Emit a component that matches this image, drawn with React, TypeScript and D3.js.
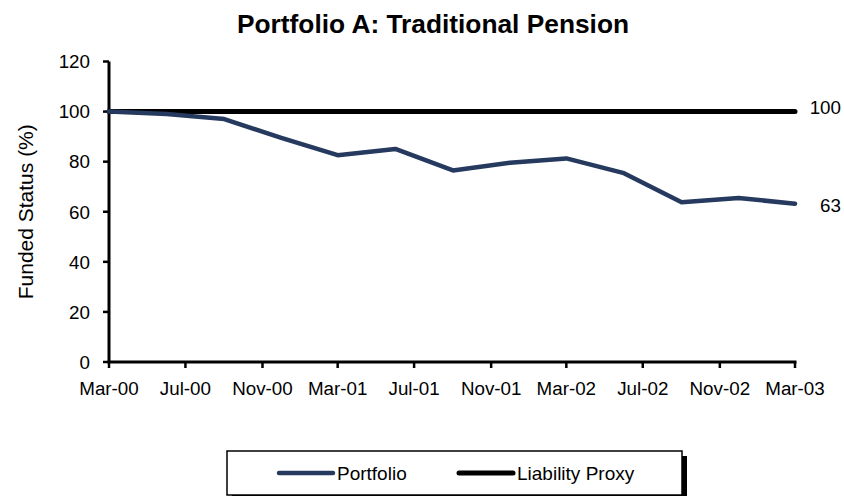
import React from "react";
import * as d3 from "d3";

const dates = ["2000-03", "2000-06", "2000-09", "2000-12", "2001-03", "2001-06", "2001-09", "2001-12", "2002-03", "2002-06", "2002-09", "2002-12", "2003-03"];
const portfolio = [100, 99, 97, 89.5, 82.6, 85.1, 76.5, 79.6, 81.3, 75.4, 63.8, 65.5, 63.2];
const liability = [100, 100, 100, 100, 100, 100, 100, 100, 100, 100, 100, 100, 100];
const yTicks = [0, 20, 40, 60, 80, 100, 120];
const endLabels = ["100", "63"];

const W = 844;
const H = 496;
const FONT = "'Liberation Sans', Arial, sans-serif";
const NAVY = "#253a5e";

export default function App() {
  const parse = d3.timeParse("%Y-%m");
  const ds = dates.map((d) => parse(d) as Date);
  const last = ds.length - 1;
  const x = d3.scaleTime().domain([ds[0], ds[last]]).range([109, 795]);
  const y = d3.scaleLinear().domain([0, 120]).range([362, 61.5]);
  const xTicks = d3.timeMonth.range(ds[0], d3.timeDay.offset(ds[last], 1), 4);
  const fmt = d3.timeFormat("%b-%y");
  const line = d3.line<number>().x((_, i) => x(ds[i])).y((v) => y(v));

  return (
    <svg width={W} height={H} style={{ position: "absolute", left: 0, top: 0, background: "#fff" }} fontFamily={FONT}>
      <text x={433} y={33} textAnchor="middle" fontSize={26.3} fontWeight="bold" fill="#000">
        Portfolio A: Traditional Pension
      </text>
      <text transform={`translate(33,${(y(0) + y(120)) / 2}) rotate(-90)`} textAnchor="middle" fontSize={21} fill="#000">
        Funded Status (%)
      </text>
      {/* Y axis */}
      <line x1={109} x2={109} y1={y(120)} y2={y(0)} stroke="#000" strokeWidth={3} />
      {yTicks.map((t) => (
        <g key={t}>
          <line x1={103} x2={109} y1={y(t)} y2={y(t)} stroke="#000" strokeWidth={2.5} />
          <text x={90} y={y(t)} dy="0.36em" textAnchor="end" fontSize={18.8} fill="#000">
            {t}
          </text>
        </g>
      ))}
      {/* X axis */}
      <line x1={x(ds[0]) - 1.5} x2={x(ds[last]) + 1.5} y1={y(0)} y2={y(0)} stroke="#000" strokeWidth={3} />
      {xTicks.map((t, i) => (
        <g key={i}>
          <line x1={x(t)} x2={x(t)} y1={y(0)} y2={y(0) + 6} stroke="#000" strokeWidth={2.5} />
          <text x={x(t)} y={395} textAnchor="middle" fontSize={18.8} fill="#000">
            {fmt(t)}
          </text>
        </g>
      ))}
      {/* Series */}
      <path d={line(liability) || ""} fill="none" stroke="#000" strokeWidth={5} strokeLinecap="round" />
      <path d={line(portfolio) || ""} fill="none" stroke={NAVY} strokeWidth={4.5} strokeLinejoin="round" strokeLinecap="round" />
      <text x={x(ds[last]) + 46} y={y(liability[last]) - 4} dy="0.36em" textAnchor="end" fontSize={18.8} fill="#000">
        {endLabels[0]}
      </text>
      <text x={x(ds[last]) + 46} y={y(portfolio[last]) + 1} dy="0.36em" textAnchor="end" fontSize={18.8} fill="#000">
        {endLabels[1]}
      </text>
      {/* Legend */}
      <rect x={232} y={456} width={455} height={46} fill="#000" />
      <rect x={227} y={451} width={455} height={44} fill="#fff" stroke="#000" strokeWidth={1.5} />
      <line x1={279} x2={333} y1={473} y2={473} stroke={NAVY} strokeWidth={4.5} strokeLinecap="round" />
      <text x={337} y={480} fontSize={19} fill="#000">Portfolio</text>
      <line x1={459} x2={513} y1={473} y2={473} stroke="#000" strokeWidth={5} strokeLinecap="round" />
      <text x={517} y={480} fontSize={19} fill="#000">Liability Proxy</text>
    </svg>
  );
}
